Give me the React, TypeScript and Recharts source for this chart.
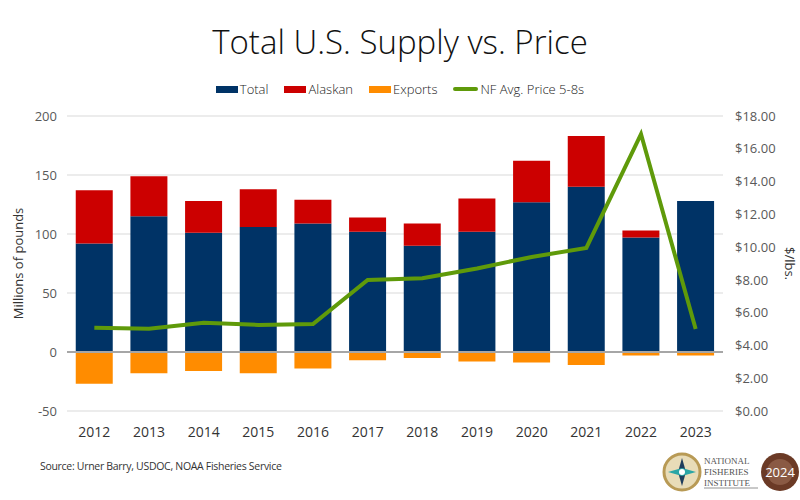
import {
  ComposedChart, Bar, Line, XAxis, YAxis, CartesianGrid, ReferenceLine, Label,
} from "recharts";

const YEARS = ["2012", "2013", "2014", "2015", "2016", "2017", "2018", "2019", "2020", "2021", "2022", "2023"];
// millions of pounds
const TOTAL = [92, 115, 101, 106, 109, 102, 90, 102, 127, 140, 97, 128];
const ALASKAN = [45, 34, 27, 32, 20, 12, 19, 28, 35, 43, 6, 0];
const EXPORTS = [-27, -18, -16, -18, -14, -7, -5, -8, -9, -11, -3, -3];
// $/lb
const PRICE = [5.08, 5.02, 5.39, 5.25, 5.31, 7.99, 8.1, 8.7, 9.4, 9.95, 16.9, 5.0];

const LEFT_TICKS = [-50, 0, 50, 100, 150, 200];
const RIGHT_TICKS = [0, 2, 4, 6, 8, 10, 12, 14, 16, 18];

const NAVY = "#003366";
const RED = "#cc0000";
const ORANGE = "#ff8c00";
const GREEN = "#5f9a0a";
const FONT = "'Open Sans', 'DejaVu Sans', sans-serif";

const data = YEARS.map((year, i) => ({
  year,
  total: TOTAL[i],
  alaskan: ALASKAN[i],
  exports: EXPORTS[i],
  price: PRICE[i],
}));

const LEGEND = [
  { name: "Total", color: NAVY, line: false },
  { name: "Alaskan", color: RED, line: false },
  { name: "Exports", color: ORANGE, line: false },
  { name: "NF Avg. Price 5-8s", color: GREEN, line: true },
];

function LegendRow() {
  return (
    <div style={{ position: "absolute", top: 80, left: 0, width: 800, display: "flex", justifyContent: "center", gap: 16, fontFamily: FONT, fontSize: 13, fontWeight: 300, color: "#222" }}>
      {LEGEND.map((item) => (
        <div key={item.name} style={{ display: "flex", alignItems: "center", gap: 2 }}>
          <span style={{ display: "inline-block", width: item.line ? 25 : 22, height: item.line ? 4 : 7, background: item.color, borderRadius: item.line ? 2 : 0 }} />
          <span>{item.name}</span>
        </div>
      ))}
    </div>
  );
}

function Logos() {
  return (
    <div style={{ position: "absolute", left: 660, top: 450, width: 140, height: 44 }}>
      <svg width={140} height={44}>
        <circle cx={22} cy={22} r={18} fill="#e8dcb8" stroke="#b89a55" strokeWidth={3} />
        <polygon points="22,8 26,22 22,36 18,22" fill="#1f3d5c" />
        <polygon points="8,22 22,18 36,22 22,26" fill="#2aa6a6" />
        <circle cx={22} cy={22} r={3} fill="#fff" />
        <text x={44} y={14} fontFamily="'Liberation Serif', serif" fontSize={9} fill="#555">NATIONAL</text>
        <text x={44} y={25} fontFamily="'Liberation Serif', serif" fontSize={9} fill="#555">FISHERIES</text>
        <text x={44} y={36} fontFamily="'Liberation Serif', serif" fontSize={9} fill="#555">INSTITUTE</text>
        <line x1={44} y1={38} x2={98} y2={38} stroke="#777" strokeWidth={0.8} />
        <circle cx={120} cy={22} r={19} fill="#6b3a26" />
        <circle cx={120} cy={22} r={13} fill="#8a5a44" />
        <text x={120} y={27} textAnchor="middle" fontFamily={FONT} fontSize={13} fill="#fff">2024</text>
      </svg>
    </div>
  );
}

export default function App() {
  return (
    <div style={{ position: "absolute", top: 0, left: 0, width: 800, height: 500, background: "#fff", overflow: "hidden" }}>
      <div style={{ position: "absolute", top: 19, left: 0, width: 800, textAlign: "center", fontFamily: FONT, fontSize: 33, fontWeight: 300, color: "#111" }}>
        Total U.S. Supply vs. Price
      </div>
      <LegendRow />
      <div style={{ position: "absolute", top: 0, left: 0 }}>
        <ComposedChart
          width={800}
          height={500}
          data={data}
          stackOffset="sign"
          barCategoryGap="16%"
          margin={{ top: 116, right: 0, bottom: 59, left: 0 }}
        >
          <CartesianGrid vertical={false} stroke="#d9d9d9" yAxisId="left" />
          <XAxis
            dataKey="year"
            axisLine={false}
            tickLine={false}
            height={30}
            tickMargin={10}
            tick={{ fill: "#333", fontSize: 14, fontFamily: FONT }}
          />
          <YAxis
            yAxisId="left"
            width={67}
            domain={[-50, 200]}
            ticks={LEFT_TICKS}
            axisLine={false}
            tickLine={false}
            tickSize={0}
            tickMargin={10}
            tick={{ fill: "#595959", fontSize: 13, fontFamily: FONT }}
          >
            <Label value="Millions of pounds" angle={-90} position="insideLeft" offset={18} style={{ fill: "#333", fontSize: 13, fontFamily: FONT, textAnchor: "middle" }} />
          </YAxis>
          <YAxis
            yAxisId="right"
            orientation="right"
            width={77}
            domain={[0, 18]}
            ticks={RIGHT_TICKS}
            axisLine={false}
            tickLine={false}
            tickSize={0}
            tickMargin={12}
            tickFormatter={(v: number) => `$${v.toFixed(2)}`}
            tick={{ fill: "#595959", fontSize: 13, fontFamily: FONT }}
          >
            <Label value="$/lbs." angle={90} position="insideRight" offset={10} style={{ fill: "#333", fontSize: 13, fontFamily: FONT, textAnchor: "middle" }} />
          </YAxis>
          <ReferenceLine yAxisId="left" y={0} stroke="#a6a6a6" strokeWidth={2} />
          <Bar yAxisId="left" dataKey="total" stackId="s" fill={NAVY} isAnimationActive={false} />
          <Bar yAxisId="left" dataKey="alaskan" stackId="s" fill={RED} isAnimationActive={false} />
          <Bar yAxisId="left" dataKey="exports" stackId="s" fill={ORANGE} isAnimationActive={false} />
          <Line yAxisId="right" dataKey="price" type="linear" stroke={GREEN} strokeWidth={4} dot={false} isAnimationActive={false} />
        </ComposedChart>
      </div>
      <div style={{ position: "absolute", top: 459, left: 40, fontFamily: FONT, fontSize: 10.5, color: "#333", letterSpacing: -0.3 }}>
        Source: Urner Barry, USDOC, NOAA Fisheries Service
      </div>
      <Logos />
    </div>
  );
}
